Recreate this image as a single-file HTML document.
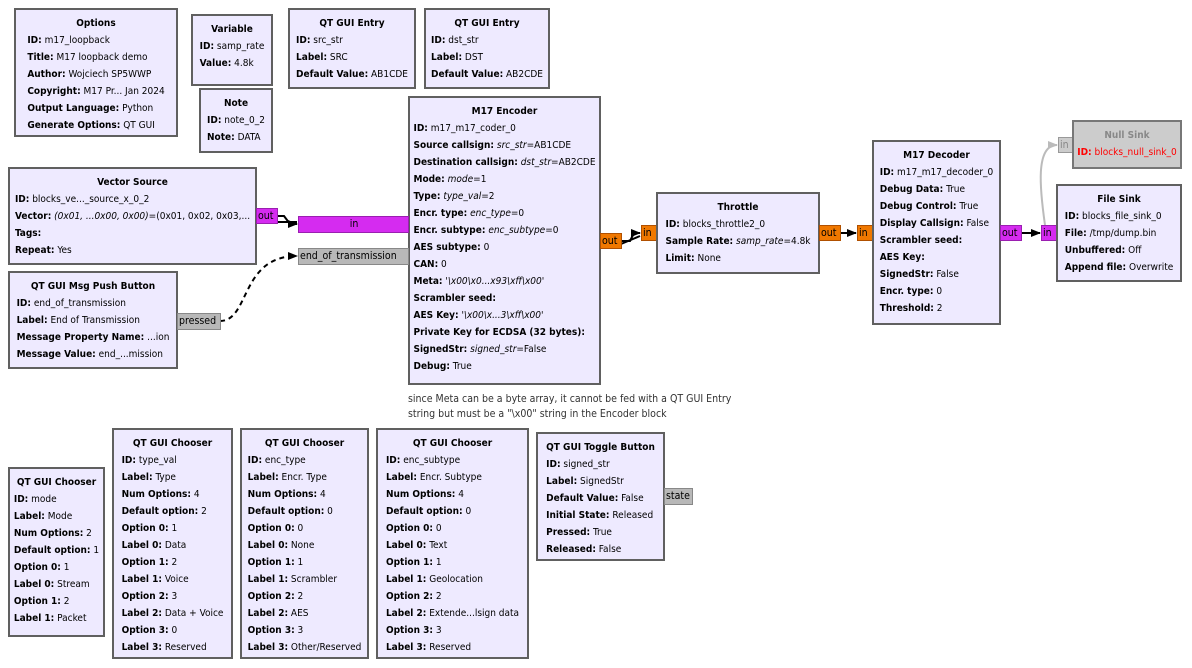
<!DOCTYPE html>
<html><head><meta charset="utf-8"><style>
body{margin:0;width:1192px;height:668px;background:#fff;position:relative;overflow:hidden;font-family:"DejaVu Sans Condensed","DejaVu Sans","Liberation Sans",sans-serif;font-stretch:condensed;font-size:10px;color:#000}
.b{position:absolute;box-sizing:border-box;border:2px solid #606060;background:#eeeaff;display:flex;justify-content:center;padding-top:5px}
.b>div{line-height:17px;white-space:nowrap}
.t{font-weight:bold;text-align:center}
.b b{font-weight:bold}
.p{position:absolute;box-sizing:border-box;border:1px solid #888;font-size:10.5px;line-height:14px;padding-left:1px;white-space:nowrap}
.m{background:#d52bf0;border-color:#9a1fb0}
.o{background:#f07800;border-color:#b05000}
.g{background:#b8b8b8;border-color:#888}
.n{position:absolute;font-size:10.5px;line-height:15px;color:#333}
svg{position:absolute;left:0;top:0}
</style></head><body>
<svg width="1192" height="668">
<defs><marker id="a" markerWidth="10" markerHeight="8" refX="9" refY="4" orient="auto" markerUnits="userSpaceOnUse"><path d="M0,0L10,4L0,8z" fill="#000"/></marker>
<marker id="ag" markerWidth="10" markerHeight="8" refX="9" refY="4" orient="auto" markerUnits="userSpaceOnUse"><path d="M0,0L10,4L0,8z" fill="#bbb"/></marker></defs>
<g stroke="#000" stroke-width="2" fill="none">
<path d="M277,216 L284,216 L290,224 L297,224" marker-end="url(#a)"/>
<path d="M277,222 L297,222"/>
<path d="M220,321 C250,321 240,256 297,256" stroke-dasharray="5,4" marker-end="url(#a)"/>
<path d="M621,241 L630,241 L634,233 L640,233" marker-end="url(#a)"/>
<path d="M621,244 L640,236"/>
<path d="M840,233 L856,233" marker-end="url(#a)"/>
<path d="M1021,233 L1040,233" marker-end="url(#a)"/>
<path d="M1045,225 C1040,190 1035,145 1057,145" stroke="#bbb" marker-end="url(#ag)"/>
</g></svg>

<div class="b" style="left:14px;top:8px;width:164px;height:129px"><div><div class="t">Options</div><b>ID:</b> m17_loopback<br><b>Title:</b> M17 loopback demo<br><b>Author:</b> Wojciech SP5WWP<br><b>Copyright:</b> M17 Pr... Jan 2024<br><b>Output Language:</b> Python<br><b>Generate Options:</b> QT GUI</div></div>
<div class="b" style="left:191px;top:14px;width:82px;height:72px"><div><div class="t">Variable</div><b>ID:</b> samp_rate<br><b>Value:</b> 4.8k</div></div>
<div class="b" style="left:199px;top:88px;width:74px;height:65px"><div><div class="t">Note</div><b>ID:</b> note_0_2<br><b>Note:</b> DATA</div></div>
<div class="b" style="left:288px;top:8px;width:128px;height:81px"><div><div class="t">QT GUI Entry</div><b>ID:</b> src_str<br><b>Label:</b> SRC<br><b>Default Value:</b> AB1CDE</div></div>
<div class="b" style="left:424px;top:8px;width:126px;height:81px"><div><div class="t">QT GUI Entry</div><b>ID:</b> dst_str<br><b>Label:</b> DST<br><b>Default Value:</b> AB2CDE</div></div>
<div class="b" style="left:408px;top:96px;width:193px;height:289px"><div><div class="t">M17 Encoder</div><b>ID:</b> m17_m17_coder_0<br><b>Source callsign:</b> <i>src_str</i>=AB1CDE<br><b>Destination callsign:</b> <i>dst_str</i>=AB2CDE<br><b>Mode:</b> <i>mode</i>=1<br><b>Type:</b> <i>type_val</i>=2<br><b>Encr. type:</b> <i>enc_type</i>=0<br><b>Encr. subtype:</b> <i>enc_subtype</i>=0<br><b>AES subtype:</b> 0<br><b>CAN:</b> 0<br><b>Meta:</b> <i>'\x00\x0...x93\xff\x00'</i><br><b>Scrambler seed:</b><br><b>AES Key:</b> <i>'\x00\x...3\xff\x00'</i><br><b>Private Key for ECDSA (32 bytes):</b><br><b>SignedStr:</b> <i>signed_str</i>=False<br><b>Debug:</b> True</div></div>
<div class="b" style="left:8px;top:167px;width:249px;height:98px"><div><div class="t">Vector Source</div><b>ID:</b> blocks_ve..._source_x_0_2<br><b>Vector:</b> <i>(0x01, ...0x00, 0x00)</i>=(0x01, 0x02, 0x03,...<br><b>Tags:</b><br><b>Repeat:</b> Yes</div></div>
<div class="b" style="left:8px;top:271px;width:170px;height:98px"><div><div class="t">QT GUI Msg Push Button</div><b>ID:</b> end_of_transmission<br><b>Label:</b> End of Transmission<br><b>Message Property Name:</b> ...ion<br><b>Message Value:</b> end_...mission</div></div>
<div class="p m" style="left:256px;top:208px;width:22px;height:16px">out</div>
<div class="p m" style="left:298px;top:216px;width:111px;height:17px;text-align:center">in</div>
<div class="p g" style="left:298px;top:248px;width:111px;height:17px">end_of_transmission</div>
<div class="p g" style="left:177px;top:313px;width:44px;height:17px">pressed</div>
<div class="n" style="left:408px;top:392px">since Meta can be a byte array, it cannot be fed with a QT GUI Entry<br>string but must be a "\x00" string in the Encoder block</div>
<div class="p o" style="left:600px;top:233px;width:22px;height:16px">out</div>
<div class="p o" style="left:641px;top:225px;width:16px;height:16px">in</div>
<div class="b" style="left:656px;top:192px;width:164px;height:82px"><div><div class="t">Throttle</div><b>ID:</b> blocks_throttle2_0<br><b>Sample Rate:</b> <i>samp_rate</i>=4.8k<br><b>Limit:</b> None</div></div>
<div class="p o" style="left:819px;top:225px;width:22px;height:16px">out</div>
<div class="p o" style="left:857px;top:225px;width:16px;height:16px">in</div>
<div class="b" style="left:872px;top:140px;width:129px;height:185px"><div><div class="t">M17 Decoder</div><b>ID:</b> m17_m17_decoder_0<br><b>Debug Data:</b> True<br><b>Debug Control:</b> True<br><b>Display Callsign:</b> False<br><b>Scrambler seed:</b><br><b>AES Key:</b><br><b>SignedStr:</b> False<br><b>Encr. type:</b> 0<br><b>Threshold:</b> 2</div></div>
<div class="p m" style="left:1000px;top:225px;width:22px;height:16px">out</div>
<div class="p m" style="left:1041px;top:225px;width:16px;height:16px">in</div>
<div class="b" style="left:1056px;top:184px;width:126px;height:98px"><div><div class="t">File Sink</div><b>ID:</b> blocks_file_sink_0<br><b>File:</b> /tmp/dump.bin<br><b>Unbuffered:</b> Off<br><b>Append file:</b> Overwrite</div></div>
<div class="p" style="left:1058px;top:137px;width:15px;height:16px;background:#ccc;border-color:#999;color:#888">in</div>
<div class="b" style="left:1072px;top:120px;width:110px;height:49px;background:#ccc;border-color:#777"><div><div class="t" style="color:#888">Null Sink</div><span style="color:#f00"><b>ID:</b> blocks_null_sink_0</span></div></div>
<div class="b" style="left:8px;top:467px;width:97px;height:170px"><div><div class="t">QT GUI Chooser</div><b>ID:</b> mode<br><b>Label:</b> Mode<br><b>Num Options:</b> 2<br><b>Default option:</b> 1<br><b>Option 0:</b> 1<br><b>Label 0:</b> Stream<br><b>Option 1:</b> 2<br><b>Label 1:</b> Packet</div></div>
<div class="b" style="left:112px;top:428px;width:121px;height:231px"><div><div class="t">QT GUI Chooser</div><b>ID:</b> type_val<br><b>Label:</b> Type<br><b>Num Options:</b> 4<br><b>Default option:</b> 2<br><b>Option 0:</b> 1<br><b>Label 0:</b> Data<br><b>Option 1:</b> 2<br><b>Label 1:</b> Voice<br><b>Option 2:</b> 3<br><b>Label 2:</b> Data + Voice<br><b>Option 3:</b> 0<br><b>Label 3:</b> Reserved</div></div>
<div class="b" style="left:240px;top:428px;width:129px;height:231px"><div><div class="t">QT GUI Chooser</div><b>ID:</b> enc_type<br><b>Label:</b> Encr. Type<br><b>Num Options:</b> 4<br><b>Default option:</b> 0<br><b>Option 0:</b> 0<br><b>Label 0:</b> None<br><b>Option 1:</b> 1<br><b>Label 1:</b> Scrambler<br><b>Option 2:</b> 2<br><b>Label 2:</b> AES<br><b>Option 3:</b> 3<br><b>Label 3:</b> Other/Reserved</div></div>
<div class="b" style="left:376px;top:428px;width:153px;height:231px"><div><div class="t">QT GUI Chooser</div><b>ID:</b> enc_subtype<br><b>Label:</b> Encr. Subtype<br><b>Num Options:</b> 4<br><b>Default option:</b> 0<br><b>Option 0:</b> 0<br><b>Label 0:</b> Text<br><b>Option 1:</b> 1<br><b>Label 1:</b> Geolocation<br><b>Option 2:</b> 2<br><b>Label 2:</b> Extende...lsign data<br><b>Option 3:</b> 3<br><b>Label 3:</b> Reserved</div></div>
<div class="b" style="left:536px;top:432px;width:129px;height:129px"><div><div class="t">QT GUI Toggle Button</div><b>ID:</b> signed_str<br><b>Label:</b> SignedStr<br><b>Default Value:</b> False<br><b>Initial State:</b> Released<br><b>Pressed:</b> True<br><b>Released:</b> False</div></div>
<div class="p g" style="left:664px;top:488px;width:29px;height:17px">state</div>
</body></html>
